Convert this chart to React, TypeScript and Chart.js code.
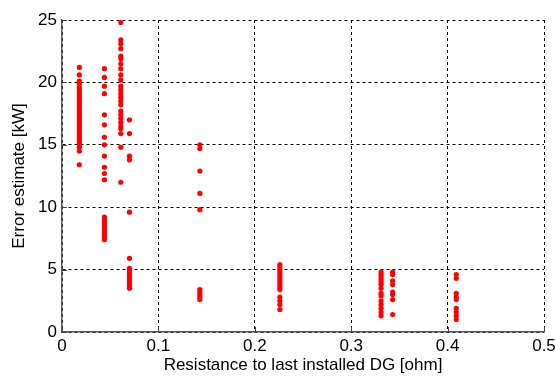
import React, { useEffect, useRef } from "react";
import { Chart, registerables } from "chart.js";

Chart.register(...registerables);

// x position (resistance, ohm) of each column of points
const columnX = [0.018, 0.044, 0.061, 0.070, 0.143, 0.226, 0.331, 0.343, 0.409];

// error estimates (kW) for each column
const col1 = [21.2, 20.6, 20.1, 19.9, 19.6, 19.4, 19.2, 19.0, 18.8, 18.6, 18.4, 18.2, 18.0, 17.8, 17.6, 17.4, 17.2, 17.0, 16.8, 16.6, 16.4, 16.2, 16.0, 15.8, 15.6, 15.4, 15.2, 15.0, 14.8, 14.5, 13.4];
const col2 = [21.1, 20.4, 19.7, 19.1, 17.4, 16.6, 15.6, 15.0, 14.1, 13.2, 12.7, 12.2, 9.2, 9.0, 8.8, 8.6, 8.4, 8.2, 8.0, 7.8, 7.6, 7.4];
const col3 = [24.8, 23.4, 23.1, 22.7, 22.1, 21.9, 21.5, 21.1, 20.6, 20.2, 19.7, 19.4, 19.1, 18.8, 18.5, 18.2, 17.7, 17.4, 17.1, 16.8, 16.5, 16.3, 15.9, 14.8, 12.0];
const col4 = [17.0, 15.9, 14.1, 13.8, 9.6, 5.9, 5.1, 4.9, 4.7, 4.5, 4.3, 4.1, 3.9, 3.7, 3.5];
const col5 = [15.0, 14.7, 12.9, 11.1, 9.8, 3.4, 3.2, 3.0, 2.8, 2.6];
const col6 = [5.4, 5.2, 5.0, 4.8, 4.6, 4.4, 4.2, 4.0, 3.8, 3.6, 3.4, 2.8, 2.5, 2.2, 1.8];
const col7 = [4.8, 4.6, 4.4, 4.2, 4.0, 3.8, 3.5, 3.1, 2.9, 2.5, 2.2, 1.9, 1.6, 1.3];
const col8 = [4.8, 4.6, 4.1, 3.8, 3.2, 3.0, 2.6, 1.4];
const col9 = [4.6, 4.3, 3.1, 2.8, 2.6, 1.9, 1.6, 1.3, 1.0];

const columns = [col1, col2, col3, col4, col5, col6, col7, col8, col9];

const xTicks = [0, 0.1, 0.2, 0.3, 0.4, 0.5];
const xTickLabels = ["0", "0.1", "0.2", "0.3", "0.4", "0.5"];
const yTicks = [0, 5, 10, 15, 20, 25];
const yTickLabels = ["0", "5", "10", "15", "20", "25"];

const xTitle = "Resistance to last installed DG [ohm]";
const yTitle = "Error estimate [kW]";

const FONT = "Arial, 'Liberation Sans', sans-serif";

export default function App() {
  const ref = useRef<HTMLCanvasElement | null>(null);

  useEffect(() => {
    document.body.style.margin = "0";
    const canvas = ref.current;
    if (!canvas) return;

    const points: { x: number; y: number }[] = [];
    columns.forEach((col, i) => {
      col.forEach((v) => points.push({ x: columnX[i], y: v }));
    });

    const innerTicks = {
      id: "innerTicks",
      afterDraw(chart: any) {
        const { ctx, chartArea, scales } = chart;
        ctx.save();
        ctx.strokeStyle = "#444";
        ctx.lineWidth = 1;
        ctx.setLineDash([]);
        ctx.beginPath();
        xTicks.forEach((t) => {
          const px = Math.round(scales.x.getPixelForValue(t)) + 0.5;
          ctx.moveTo(px, chartArea.bottom);
          ctx.lineTo(px, chartArea.bottom - 5);
        });
        yTicks.forEach((t) => {
          const py = Math.round(scales.y.getPixelForValue(t)) + 0.5;
          ctx.moveTo(chartArea.left, py);
          ctx.lineTo(chartArea.left + 5, py);
        });
        ctx.stroke();
        ctx.restore();
      },
    };

    const chart = new Chart(canvas, {
      type: "scatter",
      data: {
        datasets: [
          {
            data: points,
            backgroundColor: "#ff0000",
            borderColor: "#ff0000",
            pointRadius: 2.6,
            pointBorderWidth: 0,
            pointStyle: "circle",
          },
        ],
      },
      options: {
        animation: false,
        responsive: false,
        maintainAspectRatio: false,
        layout: { padding: { top: 20, right: 11, left: 0, bottom: 0 } },
        plugins: { legend: { display: false }, tooltip: { enabled: false } },
        scales: {
          x: {
            type: "linear",
            min: 0,
            max: 0.5,
            afterBuildTicks: (s: any) => {
              s.ticks = xTicks.map((v) => ({ value: v }));
            },
            afterFit: (s: any) => {
              s.height = 46;
              s.paddingLeft = 0;
              s.paddingRight = 0;
            },
            ticks: {
              callback: (v: any) => {
                const i = xTicks.findIndex((t) => Math.abs(t - Number(v)) < 1e-9);
                return i >= 0 ? xTickLabels[i] : "";
              },
              color: "#000",
              font: { family: FONT, size: 17 },
              padding: 4,
              maxRotation: 0,
            },
            grid: { color: "#000", lineWidth: 1, drawTicks: false },
            border: { display: true, color: "#555", width: 1.5, dash: [3, 3] },
            title: {
              display: true,
              text: xTitle,
              color: "#000",
              font: { family: FONT, size: 17 },
              padding: { top: 0, bottom: 2 },
            },
          },
          y: {
            type: "linear",
            min: 0,
            max: 25,
            afterBuildTicks: (s: any) => {
              s.ticks = yTicks.map((v) => ({ value: v }));
            },
            afterFit: (s: any) => {
              s.width = 62;
              s.paddingTop = 0;
              s.paddingBottom = 0;
            },
            ticks: {
              callback: (v: any) => {
                const i = yTicks.findIndex((t) => Math.abs(t - Number(v)) < 1e-9);
                return i >= 0 ? yTickLabels[i] : "";
              },
              color: "#000",
              font: { family: FONT, size: 17 },
              padding: 5,
            },
            grid: { color: "#000", lineWidth: 1, drawTicks: false },
            border: { display: true, color: "#555", width: 1.5, dash: [3, 3] },
            title: {
              display: true,
              text: yTitle,
              color: "#000",
              font: { family: FONT, size: 17 },
              padding: { top: 9, bottom: 0 },
            },
          },
        },
      },
      plugins: [innerTicks],
    });

    return () => chart.destroy();
  }, []);

  return (
    <div style={{ width: 555, height: 378, position: "relative" }}>
      <canvas ref={ref} width={555} height={378} style={{ display: "block" }} />
    </div>
  );
}
